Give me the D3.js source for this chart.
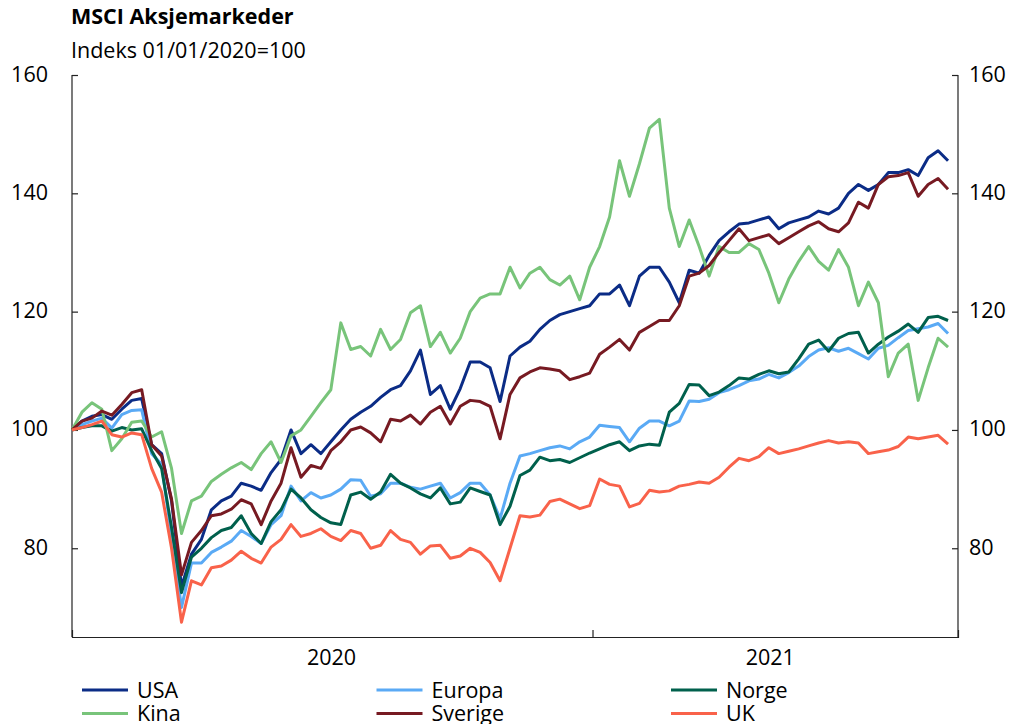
<!DOCTYPE html>
<html>
<head>
<meta charset="utf-8">
<script src="https://cdn.jsdelivr.net/npm/d3@7"></script>
<style>
    body { margin: 0; background: #fff; }
    svg { display: block; font-family: "Open Sans", "Noto Sans", sans-serif; }
</style>
</head>
<body>
<div id="chart"></div>
<script>
// weekly observations from 01/01/2020 (index = 100)
const startDate = new Date(2020, 0, 1);
const endDate = new Date(2021, 8, 15);
const lastDate = new Date(2021, 8, 8);
const dates = d3.timeDay.range(startDate, d3.timeDay.offset(lastDate, 1), 7);

const usa = [100, 101.5, 102.3, 102.6, 101.8, 103.5, 105, 105.3, 97.5, 96, 88, 73.5, 79, 81.5, 86.5, 88, 88.8, 91, 90.5,
    89.8, 92.8, 95, 100, 96, 97.5, 96, 98, 100, 101.8, 103, 104, 105.5, 106.8, 107.5, 110, 113.5, 106,
    107.5, 103.5, 107, 111.5, 111.5, 110.5, 104.8, 112.5, 114, 115, 117, 118.5, 119.5, 120, 120.5, 121, 123,
    123, 124.5, 121, 126, 127.5, 127.5, 125, 121.5, 127, 126.5, 129.5, 132, 133.5, 134.8, 135, 135.5, 136,
    134, 135, 135.5, 136, 137, 136.5, 137.5, 140, 141.5, 140.5, 141.5, 143.5, 143.5, 144, 143, 146, 147.2, 145.5];

const europa = [100, 100.9, 101.5, 102, 100.3, 102.6, 103.3, 103.4, 96, 94.2, 82, 70, 77.5, 77.5, 79.3, 80.2, 81.2, 83, 82,
    80.8, 84, 85.5, 90.5, 88, 89.4, 88.5, 89, 90, 91.6, 91.5, 88.8, 89.2, 91, 91, 90.3, 90, 90.5,
    91, 88.5, 89.4, 91, 91, 89, 85, 91, 95.6, 96, 96.5, 97, 97.3, 96.8, 98, 98.8, 100.8,
    100.6, 100.4, 98, 100.3, 101.5, 101.5, 100.7, 101.5, 104.9, 104.8, 105.2, 106.3, 106.8, 107.5, 108.3, 108.6, 109.4,
    108.8, 109.7, 110.8, 112.4, 113.5, 113.9, 113.3, 113.8, 112.9, 112, 113.8, 114.3, 115.6, 116.8, 117.1, 117.4, 118, 116.3];

const norge = [100, 100.4, 100.7, 100.7, 99.8, 100.4, 100, 100.2, 96.5, 93.5, 83.5, 72.5, 78.5, 80, 81.8, 83, 83.5, 85.5, 82.5,
    80.8, 84.5, 86.5, 90, 88.5, 86.5, 85.2, 84.3, 84, 89, 89.5, 88.3, 89.5, 92.5, 91, 90.2, 89.2, 88.5,
    90.2, 87.5, 87.8, 90.2, 89.6, 89, 84, 87.1, 92.3, 93.2, 95.4, 94.8, 95, 94.5, 95.3, 96.1, 96.8,
    97.5, 98, 96.5, 97.3, 97.6, 97.4, 103, 104.5, 107.7, 107.6, 105.8, 106.4, 107.5, 108.8, 108.6, 109.4, 110,
    109.5, 109.8, 112, 114.5, 115.2, 113.3, 115.5, 116.3, 116.5, 113, 114.5, 115.7, 116.7, 117.9, 116.5, 119, 119.2, 118.5];

const kina = [100, 103, 104.6, 103.5, 96.5, 98.5, 101.3, 101.5, 98.8, 99.7, 93.5, 82.5, 88, 88.8, 91.3, 92.5, 93.6, 94.5, 93.3,
    96, 98, 94.5, 99, 100, 102.3, 104.6, 106.8, 118.1, 113.6, 114.1, 112.5, 117, 113.6, 115.3, 119.8, 121, 114.1,
    116.5, 113, 115.5, 120, 122.3, 123, 123, 127.5, 124, 126.5, 127.5, 125.4, 124.5, 126, 122, 127.5, 131,
    136, 145.5, 139.5, 145, 151, 152.5, 137.5, 131, 135.5, 131, 126, 131, 130, 130, 131.5, 130.5, 126.5,
    121.5, 125.5, 128.5, 131, 128.5, 127, 130.5, 127.5, 121, 125, 121.5, 109, 113, 114.5, 105, 110.5, 115.5, 114];

const sverige = [100, 101.5, 102, 103.2, 102.5, 104.3, 106.3, 106.8, 97.5, 95.6, 88.3, 75.5, 81, 83, 85.5, 85.8, 86.6, 88.2, 87.5,
    84, 88, 91, 97, 92, 94, 93.5, 96.5, 98, 100, 100.5, 99.5, 98, 101.8, 101.5, 102.5, 101, 103,
    104, 101, 104, 105, 104.8, 104, 98.5, 106, 108.8, 109.8, 110.5, 110.3, 110, 108.5, 109, 109.6, 112.8,
    114, 115.3, 113.5, 116.5, 117.5, 118.5, 118.5, 121, 126, 126.5, 127.8, 130, 132, 134, 132, 132.5, 133,
    131.5, 132.5, 133.5, 134.5, 135.2, 134, 133.5, 135, 138.5, 137.5, 141.5, 142.8, 143, 143.5, 139.5, 141.5, 142.5, 140.7];

const uk = [100, 100.4, 100.9, 101.5, 99.2, 98.8, 99.5, 99.2, 93.5, 89.5, 80, 67.5, 74.5, 73.8, 76.7, 77, 78, 79.5, 78.3,
    77.5, 80.2, 81.5, 84, 82, 82.5, 83.3, 82, 81.3, 83, 82.5, 80, 80.5, 83, 81.5, 81, 79, 80.4,
    80.5, 78.3, 78.7, 80, 79.3, 77.6, 74.5, 80, 85.5, 85.3, 85.6, 87.9, 88.3, 87.5, 86.7, 87.2, 91.7,
    90.8, 90.5, 87, 87.6, 89.8, 89.5, 89.7, 90.5, 90.8, 91.2, 91, 92, 93.7, 95.2, 94.8, 95.5, 97,
    96, 96.4, 96.8, 97.3, 97.8, 98.2, 97.8, 98, 97.8, 96, 96.3, 96.6, 97.2, 98.8, 98.5, 98.8, 99.1, 97.6];

const seriesNames = ["USA", "Europa", "Norge", "Kina", "Sverige", "UK"];
const seriesValues = [usa, europa, norge, kina, sverige, uk];
const seriesColors = ["#0b2c86", "#5aaaf5", "#00604c", "#78c47a", "#771a22", "#f9624a"];
const yTicks = [80, 100, 120, 140, 160];
const yearLabels = ["2020", "2021"];

const width = 1015, height = 724;
const margin = { left: 72, right: 57, top: 75, bottom: 87 };
const fontSize = 21.5;

const svg = d3.select("#chart").append("svg")
    .attr("width", width)
    .attr("height", height);

const x = d3.scaleTime()
    .domain([startDate, endDate])
    .range([margin.left, width - margin.right]);

const y = d3.scaleLinear()
    .domain([65, 160])
    .range([height - margin.bottom, margin.top]);

// title
svg.append("text")
    .attr("x", 71).attr("y", 24)
    .attr("font-size", 21.5).attr("font-weight", "bold")
    .attr("fill", "#000")
    .text("MSCI Aksjemarkeder");

svg.append("text")
    .attr("x", 71).attr("y", 58)
    .attr("font-size", fontSize)
    .attr("fill", "#000")
    .text("Indeks 01/01/2020=100");

// axes
const leftAxis = d3.axisLeft(y).tickValues(yTicks).tickSize(-6).tickPadding(24);
const rightAxis = d3.axisRight(y).tickValues(yTicks).tickSize(-6).tickPadding(11);

const gl = svg.append("g")
    .attr("transform", `translate(${margin.left},0)`)
    .call(leftAxis);
const gr = svg.append("g")
    .attr("transform", `translate(${width - margin.right},0)`)
    .call(rightAxis);

[gl, gr].forEach(g => {
    g.select(".domain").attr("d", `M0,${y(160)}V${y(65)}`).attr("stroke", "#222").attr("stroke-width", 1.2);
    g.selectAll(".tick line").attr("stroke", "#222").attr("stroke-width", 1.2);
    g.selectAll(".tick text")
        .attr("font-size", fontSize)
        .attr("font-family", "'Open Sans', sans-serif")
        .attr("fill", "#000")
        .attr("dy", "0.28em");
});

const yearStart2021 = new Date(2021, 0, 1);
const gx = svg.append("g")
    .attr("transform", `translate(0,${height - margin.bottom})`)
    .call(d3.axisBottom(x).tickValues([yearStart2021]).tickSize(-7).tickFormat(""));
gx.select(".domain").attr("stroke", "#222").attr("stroke-width", 1.2);
gx.selectAll(".tick line").attr("stroke", "#222").attr("stroke-width", 1.2);

// year labels centred on the span of each year that holds data
const yearMid = [
    new Date((startDate.getTime() + new Date(2020, 11, 31).getTime()) / 2),
    new Date((yearStart2021.getTime() + lastDate.getTime()) / 2)
];
svg.append("g").selectAll("text")
    .data(yearLabels)
    .enter().append("text")
    .attr("x", (d, i) => x(yearMid[i]))
    .attr("y", height - margin.bottom + 28)
    .attr("text-anchor", "middle")
    .attr("font-size", fontSize)
    .attr("fill", "#000")
    .text(d => d);

// lines
const line = d3.line()
    .x((d, i) => x(dates[i]))
    .y(d => y(d));

svg.append("g")
    .attr("fill", "none")
    .attr("stroke-width", 3)
    .attr("stroke-linejoin", "round")
    .selectAll("path")
    .data(seriesValues)
    .enter().append("path")
    .attr("stroke", (d, i) => seriesColors[i])
    .attr("d", line);

// legend
const legend = svg.append("g")
    .selectAll("g")
    .data(seriesNames)
    .enter().append("g")
    .attr("transform", (d, i) => `translate(${82 + (i % 3) * 294.5},${690 + Math.floor(i / 3) * 23.5})`);

legend.append("line")
    .attr("x1", 0).attr("x2", 46)
    .attr("stroke", (d, i) => seriesColors[i])
    .attr("stroke-width", 3);

legend.append("text")
    .attr("x", 55)
    .attr("dy", "0.35em")
    .attr("font-size", fontSize)
    .attr("fill", "#000")
    .text(d => d);
</script>
</body>
</html>
